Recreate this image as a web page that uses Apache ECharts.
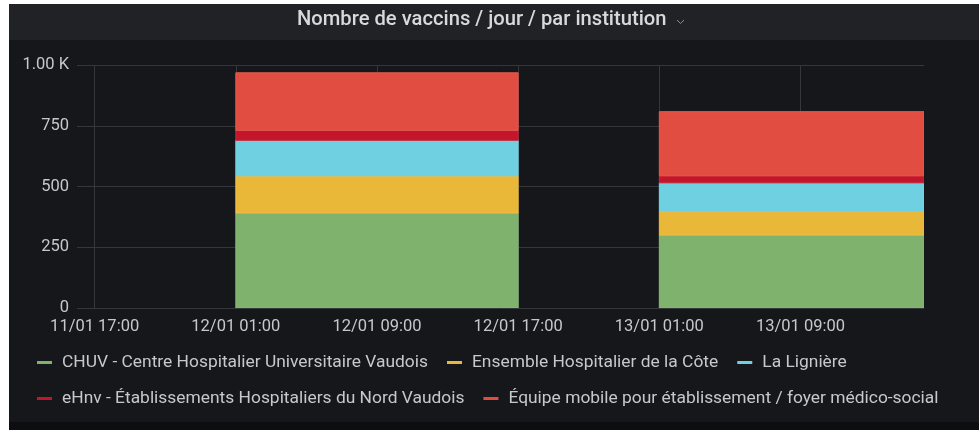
<!DOCTYPE html>
<html>
<head>
<meta charset="utf-8">
<script src="https://cdn.jsdelivr.net/npm/echarts@6/dist/echarts.min.js"></script>
<style>
  html, body { margin: 0; padding: 0; background: #ffffff; }
  #main { width: 979px; height: 430px; }
</style>
</head>
<body>
<div id="main"></div>
<script>
// x values are hours since 11/01 00:00
const barStart = [25, 49]; // 12/01 01:00, 13/01 01:00
const barEnd = [41, 65];
const seriesNames = [
  "CHUV - Centre Hospitalier Universitaire Vaudois",
  "Ensemble Hospitalier de la Côte",
  "La Lignière",
  "eHnv - Établissements Hospitaliers du Nord Vaudois",
  "Équipe mobile pour établissement / foyer médico-social"
];
const chuv = [391, 300];
const ensemble = [153, 97];
const ligniere = [146, 118];
const ehnv = [41, 29];
const equipe = [237, 264];
const xTicks = [17, 25, 33, 41, 49, 57];
const yTicks = [0, 250, 500, 750, 1000];

const colors = ["#7eb26d", "#eab839", "#6ed0e0", "#c4162a", "#e24d42"];
const allValues = [chuv, ensemble, ligniere, ehnv, equipe];

const chart = echarts.init(document.getElementById("main"));

// stack bases
const base = barStart.map(() => 0);
const series = allValues.map((vals, i) => {
  const data = vals.map((v, j) => {
    const item = [barStart[j], barEnd[j], base[j] + v, base[j]];
    base[j] += v;
    return item;
  });
  return {
    name: seriesNames[i],
    type: "custom",
    clip: true,
    itemStyle: { color: colors[i] },
    encode: { x: [0, 1], y: [2, 3] },
    data: data,
    renderItem: function (params, api) {
      const p0 = api.coord([api.value(0), api.value(3)]);
      const p1 = api.coord([api.value(1), api.value(2)]);
      const shape = echarts.graphic.clipRectByRect(
        { x: p0[0], y: p1[1], width: p1[0] - p0[0], height: p0[1] - p1[1] },
        { x: params.coordSys.x, y: params.coordSys.y, width: params.coordSys.width, height: params.coordSys.height }
      );
      return shape && {
        type: "rect",
        shape: shape,
        style: { fill: colors[i], stroke: echarts.color.lift(colors[i], 0.08), lineWidth: 1 }
      };
    }
  };
});

function fmtX(v) {
  const day = 11 + Math.floor(v / 24);
  const h = v % 24;
  return day + "/01 " + (h < 10 ? "0" + h : h) + ":00";
}

const font = "Roboto";
const labelColor = "#c7c8ca";
const gridColor = "#35373b";

const legendText = { color: labelColor, fontSize: 17.4, fontFamily: font, padding: [0, 0, 0, 5] };

const option = {
  backgroundColor: "#ffffff",
  animation: false,
  textStyle: { fontFamily: font },
  graphic: [
    { type: "rect", shape: { x: 9, y: 4, width: 970, height: 36 }, style: { fill: "#202226" }, z: -10 },
    { type: "rect", shape: { x: 9, y: 40, width: 970, height: 382 }, style: { fill: "#16171a" }, z: -10 },
    { type: "rect", shape: { x: 9, y: 422, width: 970, height: 8 }, style: { fill: "#0d0e10" }, z: -10 },
    {
      type: "text", left: 297, top: 10,
      style: { text: "Nombre de vaccins / jour / par institution", fill: "#d8d9da", font: "500 20.2px Roboto" }
    },
    {
      type: "polyline",
      shape: { points: [[677, 20], [680.5, 23.5], [684, 20]] },
      style: { stroke: "#8e8e90", lineWidth: 1, fill: null }
    }
  ],
  grid: { left: 77, right: 55, top: 65, bottom: 122, containLabel: false },
  legend: [
    {
      data: seriesNames.slice(0, 3),
      left: 37, top: 354, padding: 0,
      icon: "rect", itemWidth: 15, itemHeight: 3, itemGap: 19,
      textStyle: legendText
    },
    {
      data: seriesNames.slice(3),
      left: 37, top: 390, padding: 0,
      icon: "rect", itemWidth: 15, itemHeight: 3, itemGap: 19,
      textStyle: legendText
    }
  ],
  xAxis: {
    type: "value",
    min: 16,
    max: 64,
    axisLine: { show: false },
    axisTick: { show: true, customValues: xTicks, length: 0 },
    axisLabel: {
      customValues: xTicks,
      formatter: fmtX,
      color: labelColor,
      fontSize: 16.5,
      fontFamily: font,
      margin: 10
    },
    splitLine: { show: true, lineStyle: { color: gridColor, width: 1 } }
  },
  yAxis: {
    type: "value",
    min: 0,
    max: 1000,
    interval: 250,
    axisLine: { show: false },
    axisTick: { show: false },
    axisLabel: {
      color: labelColor,
      fontSize: 16.5,
      fontFamily: font,
      margin: 8,
      formatter: (v) => (v === 1000 ? "1.00 K" : String(v))
    },
    splitLine: { lineStyle: { color: gridColor, width: 1 } }
  },
  series: series
};

chart.setOption(option);
</script>
</body>
</html>
